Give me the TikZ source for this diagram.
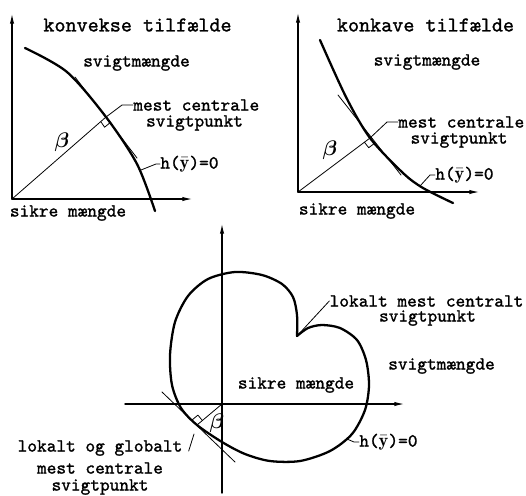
\documentclass[tikz,border=0pt]{standalone}
\usepackage{fontspec}
\usepackage{amsmath,amssymb}
\usetikzlibrary{arrows.meta}
\newfontfamily\plotfont{lmmono10-regular.otf}[FakeBold=1.3]

\begin{document}
\begin{tikzpicture}[x=0.02cm,y=-0.02cm,line cap=round,line join=round,
  axis/.style={-{Latex[length=6pt,width=2.4pt]},line width=.8pt},
  surface/.style={line width=1.3pt},
  guide/.style={line width=.45pt},
  lbl/.style={font=\plotfont\fontsize{10.5}{11}\selectfont,inner sep=0pt},
  heading/.style={font=\plotfont\fontsize{12}{14}\selectfont,inner sep=0pt},
  greek/.style={font=\fontsize{12}{12}\selectfont,inner sep=0pt}]
\path[use as bounding box] (0,0) rectangle (526,495);

% konvekse tilfaelde
\coordinate (O1) at (12,199);
\coordinate (T1) at (106,117);
\coordinate (H1) at (141,170);
\draw[axis] (O1) -- (12,13);
\draw[axis] (O1) -- (193,199);
\draw[surface] plot[smooth] coordinates {(25,48) (67,72) (106,117) (137,164) (155,211)};
\draw[guide] (75,77) -- (137,158);
\draw[guide] (O1) -- (T1);
\draw[guide] (100.8,121.6) -- (104.6,127.2) -- (110.3,122.5);
\node[heading] (tit1) at (137.5,25) {konvekse tilfælde};
\node[lbl] (fail1) at (136.5,63) {svigtmængde};
\node[lbl] (safe1) at (68,213) {sikre mængde};
\node[lbl,anchor=west] (mc1) at (133,105) {mest centrale};
\node[lbl] (sp1) at (194.5,123) {svigtpunkt};
\node[lbl,anchor=west] (h1) at (160,164) {h($\bar{\mathbf{y}}$)=0};
\node[greek] (b1) at (62,142) {$\boldsymbol{\beta}$};
\draw[guide] (T1) -- (122,105) -- (mc1.west);
\draw[guide] (H1) -- (156,164) -- (h1.west);

% konkave tilfaelde
\coordinate (O2) at (298,192);
\coordinate (T2) at (370,138);
\coordinate (H2) at (420,186);
\draw[axis] (O2) -- (298,12);
\draw[axis] (O2) -- (480,192);
\draw[surface] plot[smooth] coordinates {(320,40) (346,97) (370,138) (403,173) (423,188) (453,203)};
\draw[guide] (338,95) -- (401,175);
\draw[guide] (O2) -- (T2);
\draw[guide] (364.4,142.2) -- (368.7,147.7) -- (374.3,143.5);
\node[heading] (tit2) at (425.5,25) {konkave tilfælde};
\node[lbl] (fail2) at (427,62) {svigtmængde};
\node[lbl] (safe2) at (357,211) {sikre mængde};
\node[lbl,anchor=west] (mc2) at (398,122) {mest centrale};
\node[lbl] (sp2) at (459,140) {svigtpunkt};
\node[lbl,anchor=west] (h2) at (435,175) {h($\bar{\mathbf{y}}$)=0};
\node[greek] (b2) at (330,150) {$\boldsymbol{\beta}$};
\draw[guide] (T2) -- (387,122) -- (mc2.west);
\draw[guide] (H2) -- (430,175) -- (h2.west);

% flere lokale punkter
\coordinate (O3) at (222,404);
\coordinate (T3) at (197,425);
\coordinate (C3) at (297,336);
\coordinate (H3) at (347,439);
\draw[axis] (222,493) -- (222,223);
\draw[axis] (125,404) -- (405,404);
\draw[surface] plot[smooth] coordinates {(297,336) (308,328) (322,325) (340,328) (357,340)
  (366,360) (369,385) (365,410) (352,434) (330,451) (300,461) (270,461) (245,454)
  (222,442) (197,425) (181,408) (172,385) (170,355) (175,322) (188,296) (208,279)
  (235,272) (262,275) (282,284) (293,297) (297,315) (297,336)};
\draw[guide] (162,392) -- (235,462);
\draw[guide] (O3) -- (T3);
\draw[guide] (202.4,420.5) -- (197.9,415.1) -- (192.5,419.6);
\node[lbl] (safe3) at (296,385) {sikre mængde};
\node[lbl] (loc) at (426.5,301) {lokalt mest centralt};
\node[lbl] (locsp) at (427.5,318) {svigtpunkt};
\node[lbl] (fail3) at (441.5,366) {svigtmængde};
\node[lbl,anchor=west] (h3) at (359,442) {h($\bar{\mathbf{y}}$)=0};
\node[lbl] (glob) at (100,448) {lokalt og globalt};
\node[lbl] (glob2) at (100,468) {mest centrale};
\node[lbl] (glob3) at (100,487) {svigtpunkt};
\node[greek] (b3) at (217,423) {$\boldsymbol{\beta}$};
\draw[guide] (C3) -- (loc.west);
\draw[guide] (H3) -- (354,442) -- (h3.west);
\draw[guide] (glob.east) ++(6,3) -- (194,434);
\end{tikzpicture}
\end{document}
